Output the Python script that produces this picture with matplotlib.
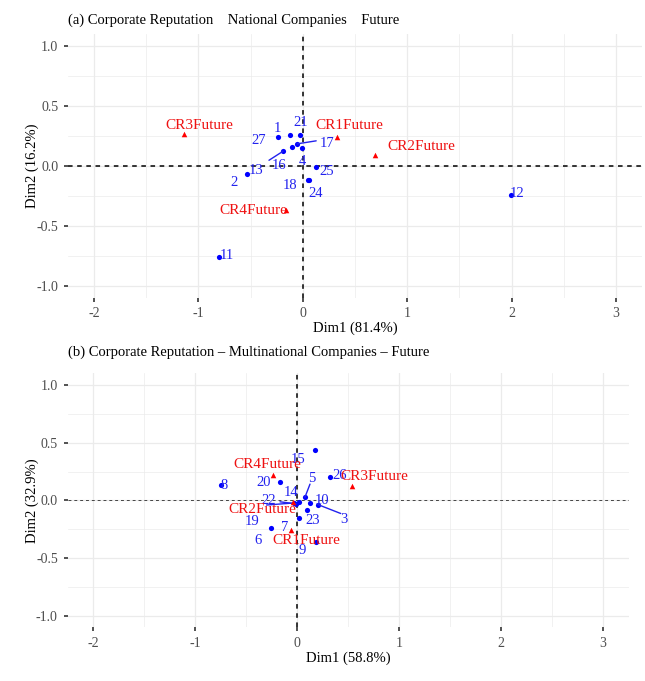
import numpy as np
import matplotlib as mpl
import matplotlib.pyplot as plt

# ---- (a) national companies ----
NAT_ROWS = ["1", "27", "21", "17", "2", "4", "16", "25", "18", "24", "13", "12", "11"]
NAT_ROW_X = [-0.24, -0.125, -0.025, -0.054, -0.106, -0.006, -0.19, 0.122, 0.045, 0.055, -0.537, 1.99, -0.80]
NAT_ROW_Y = [0.24, 0.26, 0.26, 0.184, 0.159, 0.15, 0.122, -0.012, -0.115, -0.12, -0.067, -0.24, -0.76]
NAT_COLS = ["CR1Future", "CR2Future", "CR3Future", "CR4Future"]
NAT_COL_X = [0.33, 0.69, -1.135, -0.16]
NAT_COL_Y = [0.24, 0.089, 0.27, -0.37]

# ---- (b) multinational companies ----
MNC_ROWS = ["15", "20", "8", "26", "5", "10", "3", "14", "22", "19", "23", "7", "6", "9"]
MNC_ROW_X = [0.179, -0.167, -0.75, 0.326, 0.078, 0.13, 0.203, 0.023, -0.01, -0.034, 0.095, 0.017, -0.255, 0.186]
MNC_ROW_Y = [0.433, 0.158, 0.136, 0.202, 0.029, -0.023, -0.035, -0.015, -0.029, -0.022, -0.08, -0.15, -0.236, -0.361]
MNC_COLS = ["CR1Future", "CR2Future", "CR3Future", "CR4Future"]
MNC_COL_X = [-0.056, -0.042, 0.54, -0.238]
MNC_COL_Y = [-0.254, -0.009, 0.121, 0.223]

# label placement (pixel offsets from the point, as a repel step would give),
# optional second pair = end of the leader segment
NAT_OFFSETS = {
    "1": (0, 9), "27": (-31, -6), "21": (0, 12), "17": (30, 0, 19, 3),
    "2": (-58, -36), "4": (0, -14), "16": (-4, -14, -14, -9), "25": (11, -4),
    "18": (-17, -6), "24": (7, -13), "13": (9, 3), "12": (7, 1), "11": (8, 1),
    "CR1Future": (12, 12), "CR2Future": (46, 9), "CR3Future": (15, 8), "CR4Future": (-33, 0),
}
MNC_OFFSETS = {
    "15": (-17, -9), "20": (-16, 0), "8": (4, -1), "26": (9, 2),
    "5": (7, 19, 5, 13), "10": (12, 3), "3": (26, -15, 23, -9), "14": (-8, 10),
    "22": (-27, 3, -16, 2), "19": (-41, -18, -27, -2), "23": (6, -11),
    "7": (-14, -10), "6": (-13, -13), "9": (-14, -8),
    "CR1Future": (15, -11), "CR2Future": (-30, -8), "CR3Future": (22, 10), "CR4Future": (-5, 10),
}

BLUE = "#0000FF"
RED = "#FF0000"

mpl.rcParams.update({
    "font.family": ["Liberation Serif", "DejaVu Serif"],
    "font.size": 10.5,
    "axes.unicode_minus": False,
})


def label_points(ax, names, xs, ys, offsets, color, size):
    for name, x, y in zip(names, xs, ys):
        off = offsets[name]
        if len(off) == 4:
            ax.annotate("", xy=(x, y), xytext=(off[2], off[3]), textcoords="offset pixels",
                        arrowprops=dict(arrowstyle="-", color=color, lw=1.0,
                                        shrinkA=0, shrinkB=0))
        ax.annotate(name, xy=(x, y), xytext=(off[0], off[1]), textcoords="offset pixels",
                    ha="center", va="center", color=color, fontsize=size)


def draw_panel(ax, title, xlab, ylab, rows, rx, ry, cols, cx, cy, offsets, hl_style, title_pad):
    ax.set_xticks([-2, -1, 0, 1, 2, 3])
    ax.set_yticks([-1.0, -0.5, 0.0, 0.5, 1.0])
    ax.set_yticklabels(["-1.0", "-0.5", "0.0", "0.5", "1.0"])
    ax.set_xticks([-1.5, -0.5, 0.5, 1.5, 2.5], minor=True)
    ax.set_yticks([-0.75, -0.25, 0.25, 0.75], minor=True)
    ax.grid(True, which="major", color="#EBEBEB", linewidth=0.9)
    ax.grid(True, which="minor", color="#EBEBEB", linewidth=0.5)
    ax.set_axisbelow(True)
    for s in ax.spines.values():
        s.set_visible(False)
    ax.tick_params(which="major", length=3, width=1.1, color="#222222",
                   labelcolor="#4D4D4D", labelsize=10, pad=4)
    ax.tick_params(which="minor", length=0)

    ax.axhline(0, **hl_style)
    ax.axvline(0, color="black", linestyle=(0, (3, 3)), linewidth=1.1, zorder=1)

    ax.scatter(rx, ry, s=14, color=BLUE, marker="o", zorder=3, linewidths=0)
    label_points(ax, rows, rx, ry, offsets, "#2222EE", 10.5)
    ax.scatter(cx, cy, s=16, color=RED, marker="^", zorder=4, linewidths=0)
    label_points(ax, cols, cx, cy, offsets, "#EE1111", 11)

    ax.set_xlim(-2.25, 3.25)
    ax.set_ylim(-1.1, 1.1)

    ax.set_title(title, loc="left", fontsize=10.5, pad=title_pad)
    ax.set_xlabel(xlab, fontsize=10.5, labelpad=1)
    ax.set_ylabel(ylab, fontsize=10.5, labelpad=-2)


fig = plt.figure(figsize=(6.45, 6.81), dpi=100)
ax_a = fig.add_axes([0.1054, 0.5628, 0.89, 0.3872])
ax_b = fig.add_axes([0.1047, 0.0786, 0.8698, 0.373])

draw_panel(ax_a, "(a) Corporate Reputation    National Companies    Future",
           "Dim1 (81.4%)", "Dim2 (16.2%)",
           NAT_ROWS, NAT_ROW_X, NAT_ROW_Y, NAT_COLS, NAT_COL_X, NAT_COL_Y, NAT_OFFSETS,
           dict(color="black", linestyle=(0, (3, 3)), linewidth=1.1, zorder=1), 7)
draw_panel(ax_b, "(b) Corporate Reputation \u2013 Multinational Companies \u2013 Future",
           "Dim1 (58.8%)", "Dim2 (32.9%)",
           MNC_ROWS, MNC_ROW_X, MNC_ROW_Y, MNC_COLS, MNC_COL_X, MNC_COL_Y, MNC_OFFSETS,
           dict(color="#444444", linestyle=(0, (3, 3)), linewidth=0.7, zorder=1), 13)

fig.savefig("out.png", dpi=100)
